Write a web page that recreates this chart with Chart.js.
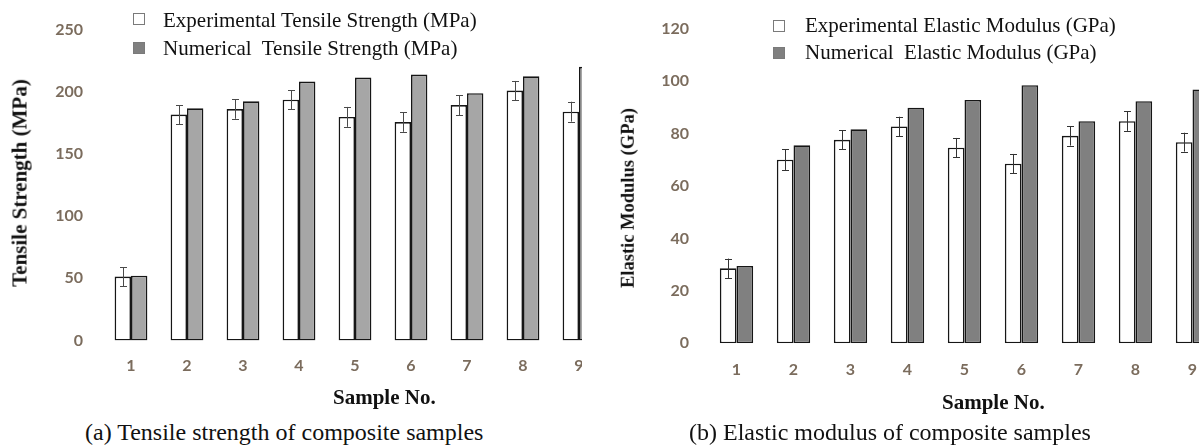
<!DOCTYPE html>
<html>
<head>
<meta charset="utf-8">
<script src="https://cdn.jsdelivr.net/npm/chart.js@4.4.1/dist/chart.umd.min.js"></script>
<style>
  html, body { margin: 0; padding: 0; background: #fff; width: 1199px; height: 447px; overflow: hidden; }
  .panel { position: absolute; top: 0; overflow: hidden; height: 447px; }
  .panel canvas { display: block; }
  .txt { position: absolute; white-space: pre; font-family: "Liberation Serif", "Times New Roman", serif; color: #111; }
  .legend { font-size: 21px; line-height: 21px; }
  .axis-title { font-weight: bold; line-height: 1; }
  .ytitle { transform: translate(-50%, -50%) rotate(-90deg); }
  .caption { font-size: 24px; line-height: 24px; }
  .swatch { position: absolute; width: 10px; height: 10px; border: 1px solid #7a7a7a; }
</style>
</head>
<body>

<div class="panel" style="left:0; width:582px;"><canvas id="tensileChart" width="607" height="390"></canvas></div>
<div class="panel" style="left:600px; width:599px;"><canvas id="modulusChart" width="621" height="395"></canvas></div>

<!-- legend (a) -->
<div class="swatch" style="left:133px; top:13px; background:#fff;"></div>
<div class="txt legend" style="left:163px; top:10px;">Experimental Tensile Strength (MPa)</div>
<div class="swatch" style="left:133px; top:42px; background:#808080;"></div>
<div class="txt legend" style="left:163px; top:38px;">Numerical  Tensile Strength (MPa)</div>

<!-- legend (b) -->
<div class="swatch" style="left:773px; top:20px; background:#fff;"></div>
<div class="txt legend" style="left:805px; top:15px;">Experimental Elastic Modulus (GPa)</div>
<div class="swatch" style="left:773px; top:47px; background:#808080;"></div>
<div class="txt legend" style="left:805px; top:42px;">Numerical  Elastic Modulus (GPa)</div>

<!-- axis titles -->
<div class="txt axis-title ytitle" style="left:20px; top:183px; font-size:21px;">Tensile Strength (MPa)</div>
<div class="txt axis-title ytitle" style="left:628px; top:198px; font-size:18.5px;">Elastic Modulus (GPa)</div>
<div class="txt axis-title" style="left:333px; top:387px; font-size:21px;">Sample No.</div>
<div class="txt axis-title" style="left:942px; top:392px; font-size:21px;">Sample No.</div>

<!-- captions -->
<div class="txt caption" style="left:85px; top:420px;">(a) Tensile strength of composite samples</div>
<div class="txt caption" style="left:689px; top:420px;">(b) Elastic modulus of composite samples</div>

<script>
// Sample numbers on the x axis
const samples = ['1', '2', '3', '4', '5', '6', '7', '8', '9'];

// Tensile strength (MPa)
const tensileExp = [51.4, 181.7, 186.1, 193.6, 179.8, 175.6, 189.3, 201.0, 184.0];
const tensileNum = [52.1, 186.7, 192.3, 208.2, 211.4, 213.8, 198.9, 212.4, 220.1];
const tensileErr = [7.7, 7.6, 7.8, 7.8, 8.0, 7.8, 8.0, 7.7, 8.0];

// Elastic modulus (GPa)
const modulusExp = [28.6, 70.0, 77.6, 82.7, 74.6, 68.5, 79.1, 84.7, 76.7];
const modulusNum = [29.5, 75.5, 81.6, 89.8, 92.8, 98.4, 84.7, 92.3, 96.8];
const modulusErr = [3.7, 3.9, 3.6, 3.7, 3.7, 3.7, 3.7, 3.7, 3.6];

const TICK_COLOR = '#7b6c5d';
const TICK_FONT = { family: 'Lato, "Open Sans", sans-serif', size: 16, weight: 'bold' };

// Draws +/- error whiskers on the experimental bars (dataset 0)
function errorBarPlugin(errors, color) {
  return {
    id: 'errorBars',
    afterDatasetsDraw(chart) {
      const meta = chart.getDatasetMeta(0);
      const values = chart.data.datasets[0].data;
      const ys = chart.scales.y;
      const ctx = chart.ctx;
      ctx.save();
      ctx.strokeStyle = color;
      ctx.lineWidth = 1;
      meta.data.forEach((bar, i) => {
        const top = ys.getPixelForValue(values[i] + errors[i]);
        const bot = ys.getPixelForValue(values[i] - errors[i]);
        const x = Math.round(bar.x) + 0.5;
        const cap = 3.5;
        ctx.beginPath();
        ctx.moveTo(x, top); ctx.lineTo(x, bot);
        ctx.moveTo(x - cap, Math.round(top) + 0.5); ctx.lineTo(x + cap, Math.round(top) + 0.5);
        ctx.moveTo(x - cap, Math.round(bot) + 0.5); ctx.lineTo(x + cap, Math.round(bot) + 0.5);
        ctx.stroke();
      });
      ctx.restore();
    }
  };
}

function makeChart(id, cfg) {
  return new Chart(document.getElementById(id), {
    type: 'bar',
    data: {
      labels: samples,
      datasets: [
        { label: cfg.expLabel, data: cfg.exp, backgroundColor: '#ffffff' },
        { label: cfg.numLabel, data: cfg.num, backgroundColor: cfg.numColor }
      ]
    },
    options: {
      responsive: false,
      animation: false,
      devicePixelRatio: 1,
      layout: { padding: { left: 0, right: 0, top: cfg.top, bottom: 0 } },
      datasets: {
        bar: {
          borderColor: '#161616',
          borderWidth: 1.6,
          borderSkipped: false,
          categoryPercentage: 0.585,
          barPercentage: 1.0
        }
      },
      plugins: { legend: { display: false }, tooltip: { enabled: false } },
      scales: {
        x: {
          offset: true,
          grid: { display: false, drawTicks: false, tickLength: 0 },
          border: { display: false },
          ticks: { color: TICK_COLOR, font: TICK_FONT, padding: cfg.xPad, maxRotation: 0 },
          afterFit(scale) { scale.height = cfg.xHeight; }
        },
        y: {
          min: 0,
          max: cfg.max,
          grid: { display: false, drawTicks: false, tickLength: 0 },
          border: { display: false },
          ticks: { stepSize: cfg.step, color: TICK_COLOR, font: TICK_FONT, padding: cfg.yPad },
          afterFit(scale) { scale.width = cfg.yWidth; }
        }
      }
    },
    plugins: [errorBarPlugin(cfg.err, cfg.errColor)]
  });
}

makeChart('tensileChart', {
  expLabel: 'Experimental Tensile Strength (MPa)',
  numLabel: 'Numerical Tensile Strength (MPa)',
  exp: tensileExp, num: tensileNum, err: tensileErr,
  numColor: '#a6a6a6', errColor: '#4a4a4a',
  max: 250, step: 50,
  top: 26.5, xHeight: 49.5, xPad: 16,
  yWidth: 103, yPad: 20
});

makeChart('modulusChart', {
  expLabel: 'Experimental Elastic Modulus (GPa)',
  numLabel: 'Numerical Elastic Modulus (GPa)',
  exp: modulusExp, num: modulusNum, err: modulusErr,
  numColor: '#808080', errColor: '#333333',
  max: 120, step: 20,
  top: 21.7, xHeight: 51.7, xPad: 17,
  yWidth: 108, yPad: 19
});
</script>
</body>
</html>
